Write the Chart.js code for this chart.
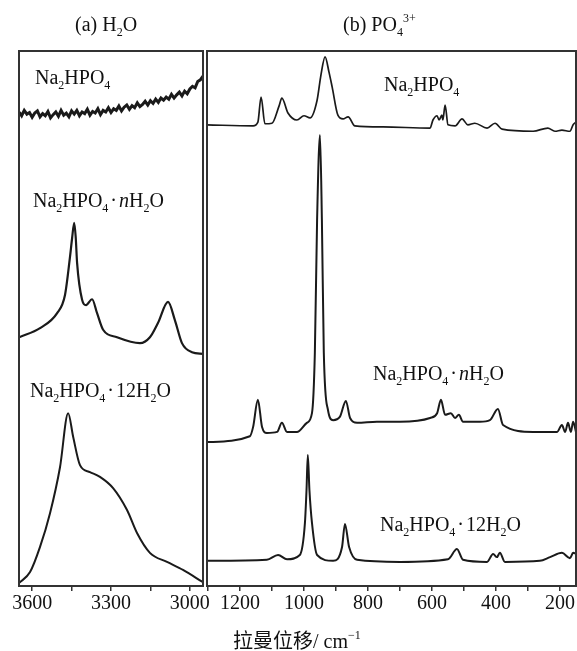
<!DOCTYPE html>
<html>
<head>
<meta charset="utf-8">
<script src="https://cdn.jsdelivr.net/npm/chart.js@4.4.1/dist/chart.umd.min.js"></script>
<style>
  html, body { margin: 0; padding: 0; background: #fff; }
  #page { position: relative; width: 577px; height: 651px; overflow: hidden; }
  .box { position: absolute; top: 0; height: 620px; }
  .lbl {
    position: absolute; white-space: nowrap;
    font-family: 'Liberation Serif', 'DejaVu Serif', serif;
    font-size: 20px; line-height: 24px; color: #111;
  }
  .lbl sub, .lbl sup { font-size: 12px; line-height: 0; position: relative; vertical-align: baseline; }
  .lbl sub { top: 5px; }
  .lbl sup { top: -9px; }
  .lbl i { font-style: italic; }
  .dot { margin: 0 2px; }
  #xtitle { font-family: 'Noto Sans CJK SC', sans-serif; font-size: 20px; }
</style>
</head>
<body>
<div id="page">
  <div class="box" style="left:0; width:215px;"><canvas id="chart-h2o"></canvas></div>
  <div class="box" style="left:200px; width:377px;"><canvas id="chart-po4"></canvas></div>

  <div class="lbl" style="left:75px; top:12px;">(a) H<sub>2</sub>O</div>
  <div class="lbl" style="left:343px; top:12px;">(b) PO<sub>4</sub><sup>3+</sup></div>

  <div class="lbl" style="left:35px; top:65px;">Na<sub>2</sub>HPO<sub>4</sub></div>
  <div class="lbl" style="left:33px; top:188px;">Na<sub>2</sub>HPO<sub>4</sub><span class="dot">·</span><i>n</i>H<sub>2</sub>O</div>
  <div class="lbl" style="left:30px; top:378px;">Na<sub>2</sub>HPO<sub>4</sub><span class="dot">·</span>12H<sub>2</sub>O</div>

  <div class="lbl" style="left:384px; top:72px;">Na<sub>2</sub>HPO<sub>4</sub></div>
  <div class="lbl" style="left:373px; top:361px;">Na<sub>2</sub>HPO<sub>4</sub><span class="dot">·</span><i>n</i>H<sub>2</sub>O</div>
  <div class="lbl" style="left:380px; top:512px;">Na<sub>2</sub>HPO<sub>4</sub><span class="dot">·</span>12H<sub>2</sub>O</div>

  <div class="lbl" id="xtitle" style="left:233px; top:628px;">拉曼位移<span style="font-family:'Liberation Serif',serif;">/ cm<sup>−1</sup></span></div>
</div>

<script>
// ---- (a) H2O region, wavenumber (cm-1) / intensity (a.u., stacked) ----
const h2oAnhydX = [3650, 3640, 3630, 3620, 3610, 3600, 3590, 3580, 3570, 3560, 3550, 3540, 3530, 3520,
                   3510, 3500, 3490, 3480, 3470, 3460, 3450, 3440, 3430, 3420, 3410, 3400, 3390, 3380,
                   3370, 3360, 3350, 3340, 3330, 3320, 3310, 3300, 3290, 3280, 3270, 3260, 3250, 3240,
                   3230, 3220, 3210, 3200, 3190, 3180, 3170, 3160, 3150, 3140, 3130, 3120, 3110, 3100,
                   3090, 3080, 3070, 3060, 3050, 3040, 3030, 3020, 3010, 3000, 2990, 2980, 2970, 2960, 2950];
const h2oAnhydY = [88.6, 87.9, 88.9, 88.2, 88.5, 87.6, 88.4, 88.8, 87.7, 88.3, 87.9, 88.7, 87.5, 88.1,
                   88.6, 87.8, 88.9, 88.0, 88.4, 87.7, 88.8, 88.2, 88.9, 87.9, 88.6, 88.3, 89.1, 88.0,
                   88.7, 88.4, 89.2, 88.1, 88.9, 88.6, 89.4, 88.5, 89.2, 88.9, 89.7, 88.8, 89.5, 89.9,
                   89.1, 89.8, 89.4, 90.3, 89.6, 90.0, 90.6, 89.9, 90.7, 90.2, 91.0, 90.4, 91.2, 90.8,
                   91.4, 91.0, 91.9, 91.2, 91.8, 92.3, 91.6, 92.5, 92.0, 92.9, 93.4, 93.1, 94.3, 94.6, 95.3];

const h2oHydX = [3649, 3570, 3505, 3475, 3456, 3448, 3440, 3434, 3429, 3410, 3395, 3372, 3353, 3330,
                 3277, 3190, 3152, 3121, 3083, 3057, 3030, 2992, 2950];
const h2oHydY = [46.5, 48.2, 51.0, 54.4, 61.5, 65.0, 67.9, 65.0, 60.4, 53.5, 52.5, 53.6, 51.0, 47.9,
                 46.5, 45.4, 46.5, 49.2, 53.1, 49.7, 45.4, 43.7, 43.4];

const h2o12X = [3649, 3608, 3570, 3532, 3494, 3463, 3444, 3418, 3380, 3342, 3292, 3239, 3201, 3152,
                3087, 3026, 2950];
const h2o12Y = [0.6, 2.6, 7.3, 13.6, 22.2, 32.3, 27.9, 22.6, 21.3, 20.4, 18.3, 14.2, 9.9, 6.2,
                4.5, 3.0, 0.7];

// ---- (b) PO4 region ----
const po4AnhydX = [1303, 1159, 1144, 1134, 1122, 1100, 1078, 1069, 1050, 1022, 1000, 981, 959, 947,
                   934, 922, 912, 894, 878, 862, 841, 753, 606, 597, 584, 578, 569, 566, 559, 550,
                   528, 506, 488, 466, 428, 403, 381, 284, 238, 216, 194, 169, 159, 150];
const po4AnhydY = [86.2, 86.0, 86.7, 91.4, 86.4, 86.5, 89.7, 91.2, 88.4, 87.1, 87.9, 87.5, 90.8, 95.5,
                   98.9, 96.1, 93.3, 88.0, 87.3, 87.7, 86.0, 85.8, 85.6, 87.1, 87.9, 87.1, 88.0, 87.1, 89.9, 86.2,
                   86.0, 87.3, 86.2, 86.5, 85.6, 86.5, 85.4, 85.0, 85.6, 85.0, 85.2, 85.0, 86.2, 86.7];

const po4HydX = [1303, 1169, 1159, 1144, 1131, 1116, 1084, 1069, 1053, 1022, 991, 975, 966, 959,
                 950, 944, 938, 925, 909, 888, 869, 856, 834, 772, 700, 606, 584, 572, 559, 541,
                 528, 516, 503, 450, 419, 394, 378, 284, 209, 194, 184, 175, 166, 159, 150];
const po4HydY = [26.9, 28.0, 29.7, 34.8, 29.7, 28.6, 28.8, 30.5, 28.8, 28.8, 30.5, 32.3, 43.6, 68.4,
                 84.3, 68.4, 43.6, 32.9, 31.0, 31.6, 34.6, 31.4, 30.5, 30.7, 30.7, 31.4, 32.3, 34.8, 32.0, 32.3,
                 31.4, 32.0, 30.7, 30.7, 31.0, 33.1, 30.1, 28.8, 28.8, 30.1, 28.8, 30.5, 28.8, 30.7, 28.8];

const po412X = [1303, 1116, 1081, 1053, 1013, 997, 992, 988, 983, 975, 959, 909, 881, 872, 859, 834,
                700, 550, 522, 503, 428, 409, 397, 388, 372, 263, 231, 194, 169, 159, 150];
const po412Y = [4.7, 4.9, 5.8, 5.0, 5.8, 11.8, 18.0, 24.5, 18.0, 11.8, 5.8, 4.7, 7.3, 11.6, 7.3, 4.9,
                4.5, 5.0, 6.9, 4.9, 4.5, 6.0, 5.4, 6.2, 4.5, 4.7, 5.4, 6.2, 5.2, 6.2, 6.0];

const h2oTicksLabeled = [3600, 3300, 3000];
const po4TicksLabeled = [1200, 1000, 800, 600, 400, 200];

const SERIF = "'Liberation Serif', 'DejaVu Serif', serif";
const INK = '#1a1a1a';

function pts(xs, ys) {
    return xs.map((x, i) => ({ x, y: ys[i] }));
}

// frame round the plot area
const framePlugin = {
    id: 'frame',
    afterDraw(chart) {
        const a = chart.chartArea;
        const ctx = chart.ctx;
        ctx.save();
        ctx.strokeStyle = '#333';
        ctx.lineWidth = 2;
        ctx.strokeRect(a.left, a.top, a.right - a.left, a.bottom - a.top);
        ctx.restore();
    }
};

function makeChart(id, series, xr, labeled, pad) {
    return new Chart(document.getElementById(id), {
        type: 'line',
        data: {
            datasets: series.map(s => ({
                data: s.data,
                borderColor: INK,
                borderWidth: s.width || 1.7,
                pointRadius: 0,
                fill: false,
                tension: 0,
                cubicInterpolationMode: s.noisy ? 'default' : 'monotone',
            })),
        },
        options: {
            responsive: true,
            maintainAspectRatio: false,
            animation: false,
            layout: { padding: pad },
            plugins: { legend: { display: false }, tooltip: { enabled: false } },
            scales: {
                x: {
                    type: 'linear',
                    reverse: true,
                    min: xr.min,
                    max: xr.max,
                    border: { display: false },
                    grid: { drawOnChartArea: false, drawTicks: true, tickLength: 5, color: '#333', lineWidth: 1.5 },
                    afterFit: (scale) => { scale.height = 34; },
                    ticks: {
                        stepSize: xr.step,
                        includeBounds: false,
                        autoSkip: false,
                        maxRotation: 0,
                        padding: 1,
                        color: '#111',
                        font: { family: SERIF, size: 20 },
                        callback: (v) => labeled.includes(v) ? String(v) : '',
                    },
                },
                y: { display: false, min: 0, max: 100 },
            },
        },
        plugins: [framePlugin],
    });
}

makeChart('chart-h2o', [
    { data: pts(h2oAnhydX, h2oAnhydY), width: 3, noisy: true },
    { data: pts(h2oHydX, h2oHydY), width: 2.2 },
    { data: pts(h2o12X, h2o12Y), width: 2 },
], { min: 2950, max: 3650, step: 150 }, h2oTicksLabeled, { left: 19, right: 12, top: 51, bottom: 0 });

makeChart('chart-po4', [
    { data: pts(po4AnhydX, po4AnhydY) },
    { data: pts(po4HydX, po4HydY), width: 2 },
    { data: pts(po412X, po412Y), width: 2 },
], { min: 150, max: 1303, step: 100 }, po4TicksLabeled, { left: 7, right: 1, top: 51, bottom: 0 });
</script>
</body>
</html>
